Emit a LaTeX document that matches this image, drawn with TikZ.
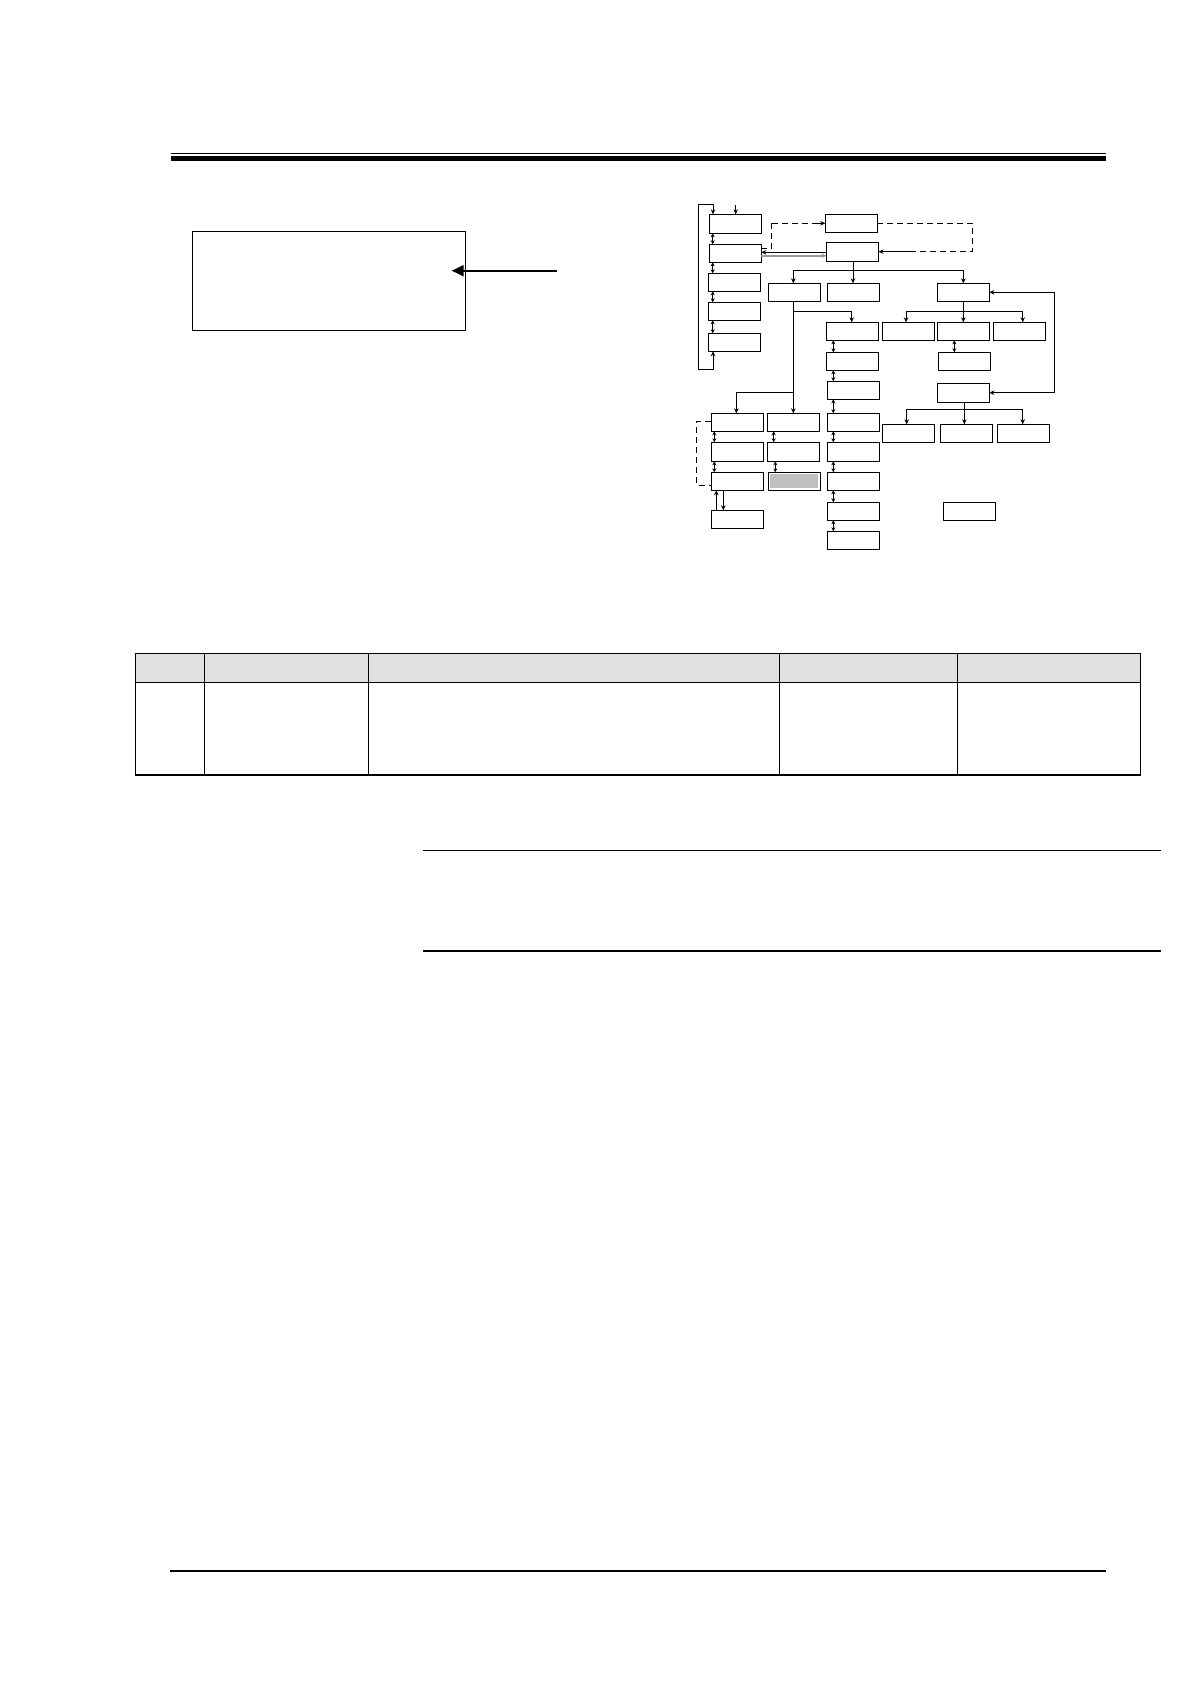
\documentclass[tikz,border=0pt]{standalone}
\usetikzlibrary{arrows.meta}
\definecolor{hdrgray}{HTML}{E0E0E0}
\definecolor{boxgray}{HTML}{C0C0C0}
\definecolor{lnkgray}{HTML}{999999}
\begin{document}
\begin{tikzpicture}[x=1pt,y=-1pt,
  bx/.style={draw,line width=1.2pt,minimum width=52pt,minimum height=18pt,inner sep=0pt,outer sep=0pt},
  arr/.style={line width=1pt,-{Stealth[length=5pt,width=4.5pt]}},
  dbl/.style={line width=1pt,{Stealth[length=4pt,width=4pt]}-{Stealth[length=4pt,width=4pt]}},
  both/.style={line width=1pt,{Stealth[length=5pt,width=4.5pt]}-{Stealth[length=5pt,width=4.5pt]}},
  dsh/.style={line width=1pt,dash pattern=on 6pt off 4pt},
  rule/.style={line width=1.3pt}]
\useasboundingbox (0,0) rectangle (1191,1684);
\fill[white] (0,0) rectangle (1191,1684);

% ---------- page header rule ----------
\draw[line width=1.5pt] (170.7,153.3) -- (1106,153.3);
\draw[line width=4.7pt] (170.7,158.3) -- (1106,158.3);

% ---------- left panel with arrow ----------
\node[draw,line width=1.1pt,minimum width=273pt,minimum height=99pt,inner sep=0pt] (panel) at (328.8,280.8) {};
\coordinate (psrc) at (557,270.7);
\coordinate (ptip) at (451.7,270.7);
\draw[line width=2pt,-{Triangle[length=12pt,width=11pt]}] (psrc) -- (ptip);

% ---------- flow chart: left column ----------
\node[bx,minimum height=19pt] (b1) at (735.3,223.8) {};
\node[bx] (b2) at (735.3,253.3) {};
\node[bx] (b3) at (734.3,282.3) {};
\node[bx] (b4) at (734.3,311.3) {};
\node[bx] (b5) at (734.3,342.3) {};

\coordinate (entry) at (735.7,205);
\draw[arr] (entry) -- (entry |- b1.north);

\coordinate (lpT) at (713,204.3);
\coordinate (lpTL) at (698,204.3);
\coordinate (lpBL) at (698,369.3);
\coordinate (lpB) at (713,369.3);
\draw[both] (b1.north -| lpT) -- (lpT) -- (lpTL) -- (lpBL) -- (lpB) -- (b5.south -| lpB);

\coordinate (xl) at (712.7,0);
\draw[dbl] (b1.south -| xl) -- (b2.north -| xl);
\draw[dbl] (b2.south -| xl) -- (b3.north -| xl);
\draw[dbl] (b3.south -| xl) -- (b4.north -| xl);
\draw[dbl] (b4.south -| xl) -- (b5.north -| xl);

% ---------- top middle ----------
\node[bx] (A) at (851.3,223.3) {};
\node[bx,minimum height=19pt] (B) at (852.5,251.8) {};

\coordinate (d1) at (761.3,248.5);
\coordinate (d2) at (771.7,248.5);
\coordinate (d3) at (771.7,223.3);
\draw[dsh] (d1) -- (d2) -- (d3);
\draw[arr] (d3) ++(40,0) -- (A.west);
\draw[dsh] (d3) -- ++(40,0);
\coordinate (d4) at (972.3,223.3);
\coordinate (d5) at (972.3,251.7);
\draw[dsh] (A.east) -- (d4) -- (d5) -- ++(-60,0);
\draw[arr] (d5) ++(-60,0) -- (B.east |- d5);

\coordinate (l1) at (0,252.3);
\coordinate (l2) at (0,255.7);
\draw[arr] (B.west |- l1) -- (b2.east |- l1);
\draw[arr,draw=lnkgray,line width=1.8pt] (b2.east |- l2) -- (B.west |- l2);

% ---------- second row ----------
\node[bx] (C) at (794.3,292.3) {};
\node[bx] (D) at (853.3,292.3) {};
\node[bx] (E) at (963.3,292.3) {};
\coordinate (jB) at (853,270.3);
\coordinate (jBL) at (793.3,270.3);
\coordinate (jBR) at (963.3,270.3);
\draw[line width=1pt] (B.south -| jB) -- (jB);
\draw[arr] (jB) -- (jBL) -- (jBL |- C.north);
\draw[arr] (jB) -- (jB |- D.north);
\draw[arr] (jB) -- (jBR) -- (jBR |- E.north);

% ---------- right branch ----------
\node[bx] (G1) at (908.3,331.3) {};
\node[bx] (G2) at (963.3,331.3) {};
\node[bx] (G3) at (1019.3,331.3) {};
\node[bx] (H) at (964.3,361.3) {};
\node[bx,minimum height=19pt] (F) at (963.3,392.8) {};
\node[bx] (T1) at (908.3,433.3) {};
\node[bx] (T2) at (966.3,433.3) {};
\node[bx] (T3) at (1023.3,433.3) {};
\node[bx] (U) at (969.3,511.3) {};

\coordinate (jE) at (963.3,311.3);
\coordinate (jE1) at (906,311.3);
\coordinate (jE3) at (1022.7,311.3);
\draw[line width=1pt] (E.south) -- (jE);
\draw[arr] (jE) -- (jE1) -- (jE1 |- G1.north);
\draw[arr] (jE) -- (jE |- G2.north);
\draw[arr] (jE) -- (jE3) -- (jE3 |- G3.north);
\coordinate (xg) at (954.3,0);
\draw[dbl] (G2.south -| xg) -- (H.north -| xg);

\coordinate (fbT) at (1054.3,292.3);
\coordinate (fbB) at (1054.3,392.7);
\draw[both] (E.east) -- (fbT) -- (fbB) -- (F.east |- fbB);

\coordinate (jF) at (964.3,409.3);
\coordinate (jF1) at (906.7,409.3);
\coordinate (jF3) at (1022.7,409.3);
\draw[line width=1pt] (F.south -| jF) -- (jF);
\draw[arr] (jF) -- (jF1) -- (jF1 |- T1.north);
\draw[arr] (jF) -- (jF |- T2.north);
\draw[arr] (jF) -- (jF3) -- (jF3 |- T3.north);

% ---------- middle column ----------
\node[bx] (I) at (852.3,331.3) {};
\node[bx] (J) at (852.3,361.3) {};
\node[bx] (K) at (853.3,390.3) {};
\node[bx] (L) at (853.3,422.3) {};
\node[bx,minimum height=19pt] (M) at (853.3,451.8) {};
\node[bx] (N) at (853.3,481.3) {};
\node[bx] (O) at (853.3,511.3) {};
\node[bx] (P) at (853.3,540.3) {};
\coordinate (xm) at (833.3,0);
\draw[dbl] (I.south -| xm) -- (J.north -| xm);
\draw[dbl] (J.south -| xm) -- (K.north -| xm);
\draw[dbl] (K.south -| xm) -- (L.north -| xm);
\draw[dbl] (L.south -| xm) -- (M.north -| xm);
\draw[dbl] (M.south -| xm) -- (N.north -| xm);
\draw[dbl] (N.south -| xm) -- (O.north -| xm);
\draw[dbl] (O.south -| xm) -- (P.north -| xm);

% ---------- lower left ----------
\node[bx] (R) at (737.3,422.3) {};
\node[bx,minimum height=19pt] (R2) at (737.3,451.8) {};
\node[bx] (R3) at (737.3,481.3) {};
\node[bx] (S) at (737.3,519.3) {};
\node[bx] (Q) at (793.3,422.3) {};
\node[bx,minimum height=19pt] (Q2) at (793.3,451.8) {};
\node[bx] (Q3) at (794.3,481.3) {};
\fill[boxgray] ([xshift=2pt,yshift=-2pt]Q3.north west) rectangle ([xshift=-2pt,yshift=2pt]Q3.south east);

\coordinate (c1) at (793.3,311.3);
\coordinate (c1r) at (851.7,311.3);
\coordinate (c2) at (793.3,392.3);
\coordinate (c2l) at (736.3,392.3);
\draw[arr] (C.south -| c1) -- (c1) -- (Q.north -| c1);
\draw[arr] (c1) -- (c1r) -- (c1r |- I.north);
\draw[arr] (c2) -- (c2l) -- (c2l |- R.north);

\coordinate (xr) at (714.3,0);
\coordinate (xq) at (773.7,0);
\coordinate (xq2) at (775.3,0);
\draw[dbl] (R.south -| xr) -- (R2.north -| xr);
\draw[dbl] (R2.south -| xr) -- (R3.north -| xr);
\draw[dbl] (Q.south -| xq) -- (Q2.north -| xq);
\draw[dbl] (Q2.south -| xq2) -- (Q3.north -| xq2);

\coordinate (bk1) at (696.7,421.7);
\coordinate (bk2) at (696.7,485.3);
\draw[dsh] (R.west |- bk1) -- (bk1) -- (bk2) -- (R3.west |- bk2);

\coordinate (xu) at (716.3,0);
\coordinate (xd) at (723.3,0);
\draw[arr] (S.north -| xu) -- (R3.south -| xu);
\draw[arr] (R3.south -| xd) -- (S.north -| xd);

% ---------- table ----------
\fill[hdrgray] (135.3,653.3) rectangle (1140.3,682.3);
\draw[rule] (135.3,653.3) rectangle (1140.3,775);
\draw[rule] (135.3,682.3) -- (1140.3,682.3);
\foreach \cx in {204.3,368.3,779.3,957.3}
  \draw[rule] (\cx,653.3) -- (\cx,775);

% ---------- two rules ----------
\draw[rule] (423.3,850.7) -- (1161,850.7);
\draw[rule] (423.3,951) -- (1161,951);

% ---------- footer rule ----------
\draw[line width=1.7pt] (169.7,1570.7) -- (1106,1570.7);
\end{tikzpicture}
\end{document}
